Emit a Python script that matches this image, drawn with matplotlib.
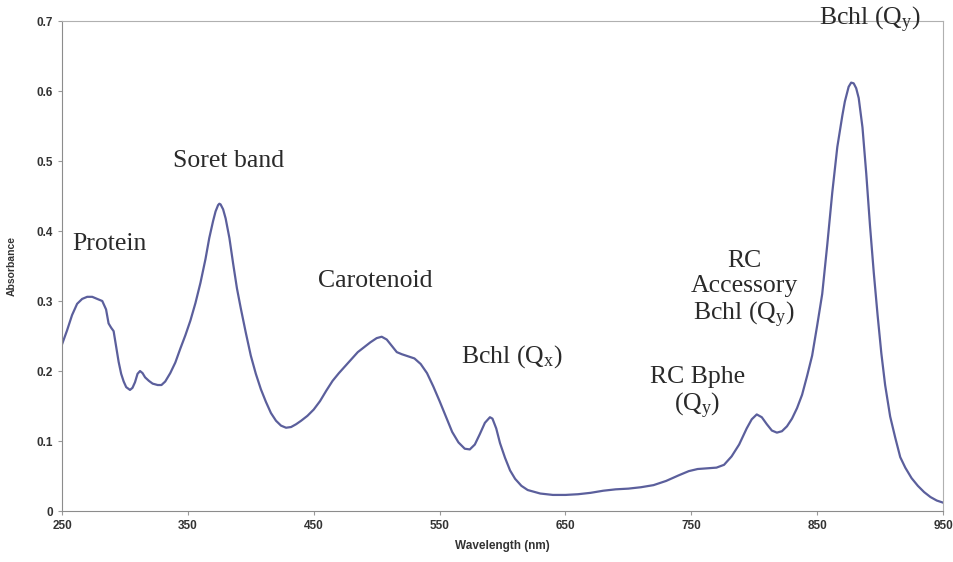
"""
Absorption spectrum of chromatophore membranes
"""
import numpy as np
import matplotlib.pyplot as plt

plt.rcParams['mathtext.fontset'] = 'custom'
plt.rcParams['mathtext.rm'] = 'Liberation Serif'
plt.rcParams['mathtext.it'] = 'Liberation Serif:italic'

wavelength = [
    250, 254, 258, 262, 266, 270, 274, 278, 282, 285, 287, 289, 291, 293, 295,
    297, 299, 301, 304, 306, 308, 310, 312, 314, 316, 319, 322, 326, 329, 332,
    336, 340, 344, 348, 352, 356, 360, 364, 367, 370, 372, 374, 375, 376, 378,
    380, 383, 386, 389, 392, 396, 400, 404, 408, 412, 416, 420, 424, 428, 432,
    436, 440, 445, 450, 455, 460, 465, 470, 475, 480, 485, 490, 495, 500, 504,
    508, 512, 516, 520, 525, 530, 535, 540, 545, 550, 555, 560, 565, 570, 574,
    578, 582, 586, 590, 592, 595, 598, 602, 606, 610, 615, 620, 630, 640, 650,
    660, 670, 680, 690, 700, 710, 720, 730, 740, 748, 755, 762, 770, 776, 782,
    788, 794, 798, 802, 806, 810, 814, 818, 822, 826, 830, 834, 838, 842, 846,
    850, 854, 858, 862, 866, 870, 872, 875, 877, 879, 881, 883, 886, 889, 892,
    895, 898, 901, 904, 908, 912, 916, 920, 925, 930, 935, 940, 945, 950,
]
absorbance = [
    0.238, 0.258, 0.280, 0.296, 0.303, 0.306, 0.306, 0.303, 0.300, 0.288,
    0.268, 0.262, 0.257, 0.235, 0.213, 0.196, 0.185, 0.177, 0.173, 0.176,
    0.184, 0.196, 0.200, 0.197, 0.191, 0.186, 0.182, 0.180, 0.180, 0.185,
    0.197, 0.212, 0.232, 0.251, 0.272, 0.297, 0.326, 0.360, 0.390, 0.414,
    0.428, 0.437, 0.439, 0.438, 0.431, 0.418, 0.390, 0.353, 0.318, 0.290,
    0.255, 0.222, 0.196, 0.174, 0.156, 0.140, 0.129, 0.122, 0.119, 0.120,
    0.124, 0.129, 0.136, 0.145, 0.157, 0.172, 0.186, 0.197, 0.207, 0.217,
    0.227, 0.234, 0.241, 0.247, 0.249, 0.245, 0.236, 0.227, 0.224, 0.221,
    0.218, 0.210, 0.197, 0.178, 0.157, 0.135, 0.113, 0.098, 0.089, 0.088,
    0.095, 0.110, 0.126, 0.134, 0.132, 0.118, 0.097, 0.076, 0.058, 0.046,
    0.036, 0.030, 0.025, 0.023, 0.023, 0.024, 0.026, 0.029, 0.031, 0.032,
    0.034, 0.037, 0.043, 0.051, 0.057, 0.060, 0.061, 0.062, 0.066, 0.078,
    0.095, 0.118, 0.131, 0.138, 0.134, 0.124, 0.115, 0.112, 0.114, 0.121,
    0.132, 0.147, 0.166, 0.193, 0.222, 0.265, 0.310, 0.380, 0.455, 0.520,
    0.565, 0.585, 0.606, 0.612, 0.611, 0.604, 0.590, 0.548, 0.482, 0.407,
    0.340, 0.280, 0.225, 0.180, 0.135, 0.105, 0.077, 0.062, 0.047, 0.036,
    0.027, 0.020, 0.015, 0.012,
]

x_ticks = [250, 350, 450, 550, 650, 750, 850, 950]
y_ticks = [0, 0.1, 0.2, 0.3, 0.4, 0.5, 0.6, 0.7]
y_tick_labels = ['0', '0.1', '0.2', '0.3', '0.4', '0.5', '0.6', '0.7']

band_names = [
    'Protein',
    'Soret band',
    'Carotenoid',
    r'Bchl (Q$_{\mathrm{x}}$)',
    'RC Bphe\n' + r'(Q$_{\mathrm{y}}$)',
    'RC\nAccessory\n' + r'Bchl (Q$_{\mathrm{y}}$)',
    r'Bchl (Q$_{\mathrm{y}}$)',
]

# where each band name sits (nm, absorbance)
name_pos = [
    (288, 0.381), (382, 0.500), (499, 0.329), (607, 0.221),
    (755, 0.168), (792, 0.316), (892, 0.701),
]

fig = plt.figure(figsize=(9.54, 5.62), dpi=100)
ax = fig.add_axes([0.065, 0.0907, 0.9235, 0.8719])

ax.plot(wavelength, absorbance, color='#5b5f9c', linewidth=1.6)

ax.set_xlim(250, 950)
ax.set_ylim(0, 0.7)
ax.set_xticks(x_ticks)
ax.set_yticks(y_ticks)
ax.set_yticklabels(y_tick_labels)
ax.tick_params(direction='out', length=3, width=0.8, colors='#999999',
               labelcolor='#333333', labelsize=8.5)
for lab in ax.get_xticklabels() + ax.get_yticklabels():
    lab.set_fontweight('bold')
    lab.set_family('Liberation Sans')

for side in ['left', 'bottom']:
    ax.spines[side].set_color('#8c8c8c')
for side in ['top', 'right']:
    ax.spines[side].set_color('#b0b0b0')

ax.set_xlabel('Wavelength (nm)', fontsize=8.5, fontweight='bold',
              family='Liberation Sans', color='#333333', labelpad=6)
ax.set_ylabel('Absorbance', fontsize=7.5, fontweight='bold',
              family='Liberation Sans', color='#333333', labelpad=14)

for name, (px, py) in zip(band_names, name_pos):
    ax.text(px, py, name, ha='center', va='center', fontsize=18.5,
            family='Liberation Serif', color='#2a2a2a', linespacing=1.15,
            clip_on=False)

plt.savefig('out.png')
